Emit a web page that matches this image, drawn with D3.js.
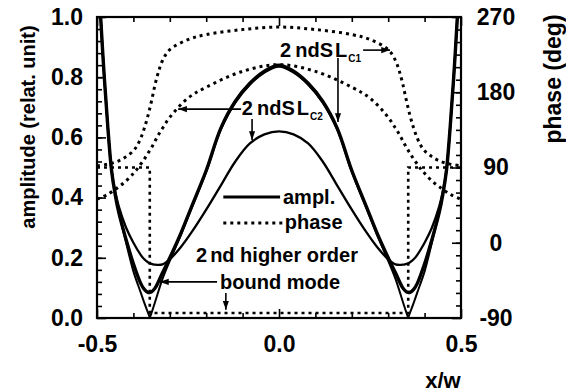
<!DOCTYPE html>
<html>
<head>
<meta charset="utf-8">
<script src="https://cdn.jsdelivr.net/npm/d3@7"></script>
<style>
  body { margin: 0; background: #fff; }
</style>
</head>
<body>
<svg id="chart"></svg>
<script>
// x/w positions shared by the three amplitude curves
const ampX = [-0.495, -0.49, -0.48, -0.47, -0.46, -0.45, -0.44, -0.42, -0.40, -0.38, -0.37, -0.36, -0.355, -0.35, -0.34, -0.32, -0.30, -0.27, -0.24, -0.20, -0.16, -0.12, -0.08, -0.04, 0,
  0.04, 0.08, 0.12, 0.16, 0.20, 0.24, 0.27, 0.30, 0.32, 0.34, 0.35, 0.355, 0.36, 0.37, 0.38, 0.40, 0.42, 0.44, 0.45, 0.46, 0.47, 0.48, 0.49, 0.495];

// 2ndSL_C1 amplitude (thick)
const amplC1 = [1.12, 1.00, 0.80, 0.63, 0.49, 0.41, 0.35, 0.26, 0.18, 0.115, 0.095, 0.085, 0.085, 0.087, 0.10, 0.15, 0.20, 0.28, 0.37, 0.49, 0.63, 0.72, 0.78, 0.82, 0.84,
  0.82, 0.78, 0.72, 0.63, 0.49, 0.37, 0.28, 0.20, 0.15, 0.10, 0.087, 0.085, 0.085, 0.095, 0.115, 0.18, 0.26, 0.35, 0.41, 0.49, 0.63, 0.80, 1.00, 1.12];

// 2ndSL_C2 amplitude
const amplC2 = [1.12, 1.00, 0.80, 0.63, 0.49, 0.42, 0.37, 0.30, 0.25, 0.21, 0.195, 0.185, 0.182, 0.18, 0.177, 0.178, 0.195, 0.235, 0.285, 0.36, 0.44, 0.52, 0.58, 0.61, 0.62,
  0.61, 0.58, 0.52, 0.44, 0.36, 0.285, 0.235, 0.195, 0.178, 0.177, 0.18, 0.182, 0.185, 0.195, 0.21, 0.25, 0.30, 0.37, 0.42, 0.49, 0.63, 0.80, 1.00, 1.12];

// 2nd higher order bound mode amplitude
const amplBound = [1.12, 1.00, 0.80, 0.63, 0.49, 0.41, 0.35, 0.25, 0.155, 0.085, 0.05, 0.018, 0.003, 0.018, 0.055, 0.13, 0.19, 0.275, 0.365, 0.485, 0.625, 0.715, 0.775, 0.815, 0.835,
  0.815, 0.775, 0.715, 0.625, 0.485, 0.365, 0.275, 0.19, 0.13, 0.055, 0.018, 0.003, 0.018, 0.05, 0.085, 0.155, 0.25, 0.35, 0.41, 0.49, 0.63, 0.80, 1.00, 1.12];

// phase curves (deg)
const phaseX = [-0.5, -0.47, -0.44, -0.42, -0.40, -0.39, -0.38, -0.37, -0.36, -0.35, -0.34, -0.33, -0.32, -0.30, -0.25, -0.20, -0.10, 0,
  0.10, 0.20, 0.25, 0.30, 0.32, 0.33, 0.34, 0.35, 0.36, 0.37, 0.38, 0.39, 0.40, 0.42, 0.44, 0.47, 0.5];
const phaseC1 = [92, 94, 98, 103, 110, 116, 125, 137, 152, 170, 190, 206, 218, 231, 243, 249, 255, 258,
  255, 249, 243, 231, 218, 206, 190, 170, 152, 137, 125, 116, 110, 103, 98, 94, 92];
const phaseC2 = [52, 58, 67, 74, 83, 88, 94, 100, 107, 114, 122, 130, 137, 150, 173, 186, 205, 213,
  205, 186, 173, 150, 137, 130, 122, 114, 107, 100, 94, 88, 83, 74, 67, 58, 52];
const boundPhaseX = [-0.5, -0.355, -0.355, 0.355, 0.355, 0.5];
const boundPhase = [90, 90, -84, -84, 90, 90];

// axes
const xTicks = [-0.5, 0, 0.5];
const xTickLabels = ["-0.5", "0.0", "0.5"];
const xMinorTicks = [-0.4, -0.3, -0.2, -0.1, 0.1, 0.2, 0.3, 0.4];
const ampTicks = [0, 0.2, 0.4, 0.6, 0.8, 1.0];
const ampTickLabels = ["0.0", "0.2", "0.4", "0.6", "0.8", "1.0"];
const phaseTicks = [-90, 0, 90, 180, 270];
const phaseTickLabels = ["-90", "0", "90", "180", "270"];

const FONT = "'Liberation Sans', Arial, Helvetica, sans-serif";

let width = 566, height = 392;
let margin = { top: 17, right: 105, bottom: 74, left: 97 };
let w = width - margin.left - margin.right;
let h = height - margin.top - margin.bottom;

let svg = d3.select("#chart")
  .attr("width", width)
  .attr("height", height);

svg.append("rect").attr("width", width).attr("height", height).attr("fill", "#fff");

let defs = svg.append("defs");
defs.append("clipPath").attr("id", "plot-clip")
  .append("rect").attr("width", w).attr("height", h);
defs.append("marker")
  .attr("id", "arrow")
  .attr("viewBox", "0 -4 10 8")
  .attr("refX", 10).attr("refY", 0)
  .attr("markerUnits", "userSpaceOnUse")
  .attr("markerWidth", 9).attr("markerHeight", 7)
  .attr("orient", "auto")
  .append("path").attr("d", "M0,-3.5L10,0L0,3.5Z").attr("fill", "#000");

let g = svg.append("g")
  .attr("transform", "translate(" + margin.left + "," + margin.top + ")");

let x = d3.scaleLinear().domain([-0.5, 0.5]).range([0, w]);
let y = d3.scaleLinear().domain([0, 1]).range([h, 0]);
let yPh = d3.scaleLinear().domain([-90, 270]).range([h, 0]);

function styleAxis(sel, size) {
  sel.select(".domain").remove();
  sel.selectAll("line").attr("stroke", "#000").attr("stroke-width", 1.6);
  sel.selectAll("text")
    .attr("font-family", FONT)
    .attr("font-weight", "bold")
    .attr("font-size", size)
    .attr("fill", "#000");
}

// curves
let plot = g.append("g").attr("clip-path", "url(#plot-clip)");

let ampLine = d3.line()
  .x(function (d) { return x(d[0]) })
  .y(function (d) { return y(d[1]) })
  .curve(d3.curveCatmullRom.alpha(0.5));
let phLine = d3.line()
  .x(function (d) { return x(d[0]) })
  .y(function (d) { return yPh(d[1]) })
  .curve(d3.curveCatmullRom.alpha(0.5));
let stepLine = d3.line()
  .x(function (d) { return x(d[0]) })
  .y(function (d) { return yPh(d[1]) });

const zip = (xs, ys) => xs.map((v, i) => [v, ys[i]]);

[[phaseC1, phLine], [phaseC2, phLine]].forEach(function (s) {
  plot.append("path")
    .datum(zip(phaseX, s[0]))
    .attr("fill", "none")
    .attr("stroke", "#000")
    .attr("stroke-width", 3)
    .attr("stroke-dasharray", "3,4")
    .attr("d", s[1]);
});
plot.append("path")
  .datum(zip(boundPhaseX, boundPhase))
  .attr("fill", "none")
  .attr("stroke", "#000")
  .attr("stroke-width", 2.6)
  .attr("stroke-dasharray", "3,4")
  .attr("d", stepLine);

[[amplC2, 2.3], [amplBound, 2], [amplC1, 3.4]].forEach(function (s) {
  plot.append("path")
    .datum(zip(ampX, s[0]))
    .attr("fill", "none")
    .attr("stroke", "#000")
    .attr("stroke-width", s[1])
    .attr("stroke-linejoin", "round")
    .attr("d", ampLine);
});

// axes and ticks
g.append("g")
  .attr("transform", "translate(0," + h + ")")
  .call(d3.axisBottom(x).tickValues(xTicks).tickFormat(function (d, i) { return xTickLabels[i] })
    .tickSizeInner(-9).tickSizeOuter(0).tickPadding(18))
  .call(styleAxis, 23);
g.append("g")
  .attr("transform", "translate(0," + h + ")")
  .call(d3.axisBottom(x).tickValues(xMinorTicks).tickFormat("").tickSizeInner(-5).tickSizeOuter(0))
  .call(styleAxis, 23);
g.append("g")
  .call(d3.axisTop(x).tickValues(xTicks).tickFormat("").tickSizeInner(-9).tickSizeOuter(0))
  .call(styleAxis, 23);
g.append("g")
  .call(d3.axisTop(x).tickValues(xMinorTicks).tickFormat("").tickSizeInner(-5).tickSizeOuter(0))
  .call(styleAxis, 23);

g.append("g")
  .call(d3.axisLeft(y).tickValues(ampTicks).tickFormat(function (d, i) { return ampTickLabels[i] })
    .tickSizeInner(-9).tickSizeOuter(0).tickPadding(14))
  .call(styleAxis, 23);
g.append("g")
  .call(d3.axisLeft(y).tickValues(d3.range(0.04, 1, 0.04)).tickFormat("").tickSizeInner(-5).tickSizeOuter(0))
  .call(styleAxis, 23);

let right = g.append("g")
  .attr("transform", "translate(" + w + ",0)")
  .call(d3.axisRight(yPh).tickValues(phaseTicks).tickFormat(function (d, i) { return phaseTickLabels[i] })
    .tickSizeInner(-9).tickSizeOuter(0).tickPadding(14))
  .call(styleAxis, 23);
right.selectAll("text").attr("text-anchor", "middle").attr("x", 35);
g.append("g")
  .attr("transform", "translate(" + w + ",0)")
  .call(d3.axisRight(yPh).tickValues(d3.range(-75, 270, 15)).tickFormat("").tickSizeInner(-5).tickSizeOuter(0))
  .call(styleAxis, 23);

// frame
g.append("rect")
  .attr("width", w).attr("height", h)
  .attr("fill", "none").attr("stroke", "#000").attr("stroke-width", 2.2);

// axis titles
svg.append("text")
  .attr("transform", "translate(35,127) rotate(-90)")
  .attr("text-anchor", "middle")
  .attr("font-family", FONT).attr("font-weight", "bold").attr("font-size", 20)
  .text("amplitude (relat. unit)");
svg.append("text")
  .attr("transform", "translate(561,79) rotate(-90)")
  .attr("text-anchor", "middle")
  .attr("font-family", FONT).attr("font-weight", "bold").attr("font-size", 23)
  .text("phase (deg)");
svg.append("text")
  .attr("x", 443).attr("y", 388)
  .attr("text-anchor", "middle")
  .attr("font-family", FONT).attr("font-weight", "bold").attr("font-size", 22)
  .text("x/w");

// annotations
let ann = g.append("g")
  .attr("font-family", FONT).attr("font-weight", "bold").attr("font-size", 20);

function arrow(x1, a1, x2, a2) {
  ann.append("line")
    .attr("x1", x(x1)).attr("y1", y(a1))
    .attr("x2", x(x2)).attr("y2", y(a2))
    .attr("stroke", "#000").attr("stroke-width", 1.6)
    .attr("marker-end", "url(#arrow)");
}

function modeLabel(xd, ad, sub) {
  let t = ann.append("text").attr("x", x(xd)).attr("y", y(ad));
  t.append("tspan").text("2");
  t.append("tspan").attr("dx", 4).text("ndS");
  t.append("tspan").attr("dx", 2).text("L");
  t.append("tspan").attr("dx", 1).attr("dy", 5).attr("font-size", 10).text(sub);
}

modeLabel(0.003, 0.867, "C1");
arrow(0.231, 0.89, 0.305, 0.89);
arrow(0.162, 0.864, 0.162, 0.651);

modeLabel(-0.102, 0.674, "C2");
arrow(-0.104, 0.694, -0.277, 0.694);
arrow(-0.074, 0.661, -0.074, 0.591);

// legend
ann.append("line")
  .attr("x1", x(-0.153)).attr("y1", y(0.402))
  .attr("x2", x(0.003)).attr("y2", y(0.402))
  .attr("stroke", "#000").attr("stroke-width", 3);
ann.append("text").attr("x", x(0.011)).attr("y", y(0.379)).text("ampl.");
ann.append("line")
  .attr("x1", x(-0.153)).attr("y1", y(0.316))
  .attr("x2", x(0.011)).attr("y2", y(0.316))
  .attr("stroke", "#000").attr("stroke-width", 3)
  .attr("stroke-dasharray", "3,4");
ann.append("text").attr("x", x(0.016)).attr("y", y(0.296)).text("phase");

let ho = ann.append("text").attr("x", x(-0.228)).attr("y", y(0.186));
ho.append("tspan").text("2");
ho.append("tspan").attr("dx", 3).text("nd higher order");
ann.append("text").attr("x", x(-0.162)).attr("y", y(0.096)).text("bound mode");
arrow(-0.170, 0.12, -0.327, 0.12);
arrow(-0.146, 0.083, -0.146, 0.027);
</script>
</body>
</html>
